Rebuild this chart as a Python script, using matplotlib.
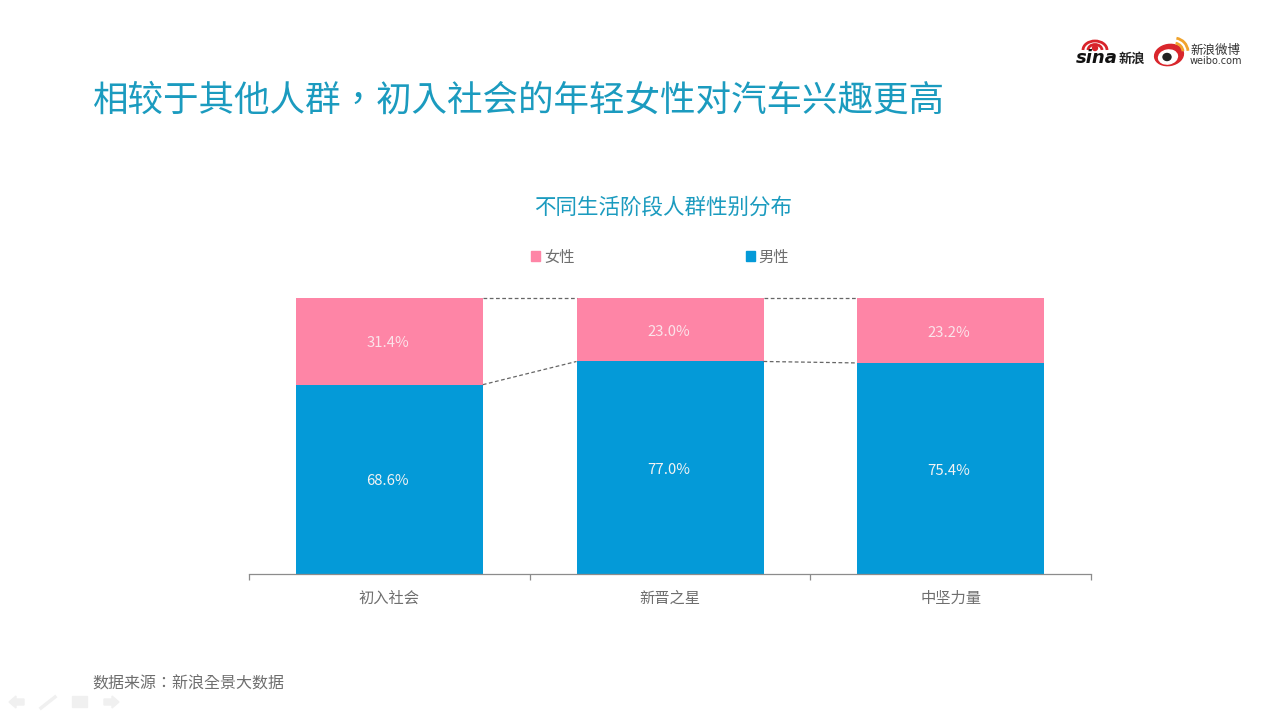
import numpy as np
import matplotlib
matplotlib.use("Agg")
import matplotlib.pyplot as plt
from matplotlib.patches import Ellipse, Arc, Patch, Polygon, Rectangle

plt.rcParams['font.family'] = ['Noto Sans CJK SC', 'DejaVu Sans']

W, H = 1280, 719

categories = ["初入社会", "新晋之星", "中坚力量"]
female = np.array([31.4, 23.0, 23.2])
male = np.array([68.6, 77.0, 75.4])

title = "相较于其他人群，初入社会的年轻女性对汽车兴趣更高"
subtitle = "不同生活阶段人群性别分布"
source = "数据来源：新浪全景大数据"

BLUE = "#049ad8"
PINK = "#fe85a6"
TEAL = "#1b9bbf"
GREY = "#8c8c8c"
# the TC cut centres the comma and colon as the slide does
CENTRED_PUNCT = ['Noto Sans CJK TC', 'DejaVu Sans']


def draw_logos(bg):
    # sina
    bg.add_patch(Arc((1095, 50), 24, 18, theta1=180, theta2=360, color="#d8232a", lw=2))
    bg.add_patch(Arc((1095, 50), 14, 11, theta1=180, theta2=360, color="#d8232a", lw=2))
    bg.add_patch(Ellipse((1095, 48), 5, 5, color="#d8232a"))
    bg.text(1076, 58, "sina", fontsize=13, fontweight="bold", style="italic",
            family="DejaVu Sans", color="#111111", ha="left", va="center")
    bg.text(1119, 59, "新浪", fontsize=9.5, fontweight="bold", color="#222222",
            ha="left", va="center")
    # weibo
    bg.add_patch(Ellipse((1169, 55), 29, 21, angle=-10, color="#d9262c"))
    bg.add_patch(Ellipse((1168, 57), 19, 14, angle=-10, color="white"))
    bg.add_patch(Ellipse((1167, 57), 8, 7, color="#222222"))
    bg.add_patch(Arc((1174, 52), 18, 18, theta1=-80, theta2=-5, color="#f0a32c", lw=2))
    bg.add_patch(Arc((1174, 52), 28, 28, theta1=-80, theta2=-5, color="#f0a32c", lw=2))
    bg.text(1190, 50, "新浪微博", fontsize=9, color="#333333", ha="left", va="center")
    bg.text(1190, 61, "weibo.com", fontsize=7, family="DejaVu Sans", color="#333333",
            ha="left", va="center")


def draw_nav(bg):
    # faint slide show buttons, bottom left
    c = "#f0f0f0"
    bg.add_patch(Polygon([[9, 702], [16, 696], [16, 699], [24, 699], [24, 705], [16, 705], [16, 708]], color=c))
    bg.plot([41, 55], [708, 697], color=c, lw=2.5)
    bg.add_patch(Rectangle((72, 696), 15, 11, color=c))
    bg.add_patch(Polygon([[119, 702], [112, 696], [112, 699], [104, 699], [104, 705], [112, 705], [112, 708]], color=c))


fig = plt.figure(figsize=(W / 100, H / 100), dpi=100, facecolor="white")

bg = fig.add_axes([0, 0, 1, 1])
bg.set_xlim(0, W)
bg.set_ylim(H, 0)
bg.axis("off")
draw_logos(bg)
draw_nav(bg)

bg.text(92.5, 101, title, fontsize=25.6, color=TEAL, ha="left", va="center", family=CENTRED_PUNCT)
bg.text(663, 208, subtitle, fontsize=15.5, color=TEAL, ha="center", va="center")
bg.text(92.5, 684, source, fontsize=11.5, color="#6e6e6e", ha="left", va="center", family=CENTRED_PUNCT)

ax = fig.add_axes([249 / W, 1 - 574 / H, 842 / W, 276 / H])
ax.patch.set_alpha(0)

# bars fill the full height, so shares are normalised per column
total = female + male
male_share = male / total
female_share = female / total
x = np.arange(len(categories))
bar_w = 187 / (842 / 3)

ax.bar(x, male_share, bar_w, color=BLUE)
ax.bar(x, female_share, bar_w, bottom=male_share, color=PINK)

# dashed connectors between the columns
for i in range(len(x) - 1):
    ax.plot([x[i] + bar_w / 2, x[i + 1] - bar_w / 2], [male_share[i], male_share[i + 1]],
            color="#666666", lw=0.9, ls=(0, (3, 2)))
    ax.plot([x[i] + bar_w / 2, x[i + 1] - bar_w / 2], [1, 1],
            color="#666666", lw=0.9, ls=(0, (3, 2)), clip_on=False)

for i in x:
    ax.annotate("%.1f%%" % male[i], (i, male_share[i] / 2), xytext=(-1.2, -1.5),
                textcoords="offset points", color="#f3f3f3", fontsize=10.7,
                ha="center", va="center")
    ax.annotate("%.1f%%" % female[i], (i, male_share[i] + female_share[i] / 2), xytext=(-1.2, -1.5),
                textcoords="offset points", color="#fbe3ea", fontsize=10.7,
                ha="center", va="center")

ax.set_xlim(-0.5, 2.5)
ax.set_ylim(0, 1)
for s in ["top", "left", "right"]:
    ax.spines[s].set_visible(False)
ax.spines["bottom"].set_color(GREY)
ax.spines["bottom"].set_linewidth(0.9)
ax.set_yticks([])
ax.set_xticks(np.arange(-0.5, 3), minor=False, labels=[""] * 4)
ax.tick_params(axis="x", direction="out", length=4, width=0.9, color=GREY)
ax.set_xticks(x, categories, minor=True)
ax.tick_params(axis="x", which="minor", length=0, pad=11.5, labelsize=11, labelcolor="#6e6e6e")

handles = [Patch(color=PINK, label="女性"), Patch(color=BLUE, label="男性")]
leg = ax.legend(handles=handles, ncol=2, frameon=False, loc="center",
                bbox_to_anchor=(660 / W, 1 - 257 / H), bbox_transform=fig.transFigure,
                fontsize=11, handlelength=0.6, handleheight=0.6, handletextpad=0.25,
                columnspacing=11.2, labelcolor="#6e6e6e")

fig.savefig("out.png", dpi=100, facecolor="white")
